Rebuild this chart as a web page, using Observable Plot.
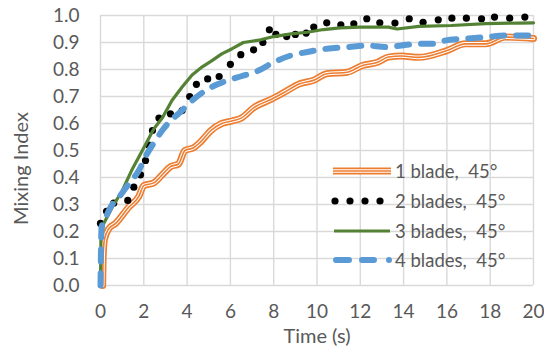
<!DOCTYPE html>
<html>
<head>
<meta charset="utf-8">
<script src="https://cdn.jsdelivr.net/npm/d3@7"></script>
<script src="https://cdn.jsdelivr.net/npm/@observablehq/plot@0.6"></script>
<style>
  html, body { margin: 0; padding: 0; background: #fff; }
  #chart { width: 544px; height: 358px; }
</style>
</head>
<body>
<div id="chart"></div>
<script>
// ---- data ----
const seriesNames = ["1 blade,  45°", "2 blades,  45°", "3 blades,  45°", "4 blades,  45°"];

const t1 = [0.1, 0.12, 0.18, 0.38, 0.7, 1.3, 1.77, 2.0, 2.46, 2.85, 3.23, 3.6, 3.9, 4.3, 4.6, 5.1, 5.6, 6.1, 6.5, 7.1, 7.9, 8.5, 9.2, 9.85, 10.45, 11.4, 12.1, 12.8, 13.3, 13.9, 14.7, 16.0, 16.85, 17.8, 18.7, 20];
const v1 = [0, 0.1, 0.17, 0.21, 0.23, 0.29, 0.33, 0.37, 0.38, 0.41, 0.44, 0.45, 0.5, 0.51, 0.53, 0.574, 0.6, 0.61, 0.62, 0.66, 0.69, 0.716, 0.747, 0.76, 0.784, 0.79, 0.815, 0.827, 0.846, 0.85, 0.845, 0.87, 0.895, 0.895, 0.92, 0.915];

const t2 = [0, 0.28, 0.61, 1.26, 1.54, 1.85, 2.08, 2.23, 2.4, 2.7, 3.23, 3.77, 4.12, 4.43, 4.95, 5.48, 6.0, 6.48, 7.07, 7.5, 7.8, 8.1, 8.6, 9.0, 9.5, 9.85, 10.45, 11.1, 11.7, 12.3, 12.9, 13.6, 14.26, 14.9, 15.6, 16.23, 16.9, 17.6, 18.2, 18.9, 19.6];
const v2 = [0.23, 0.275, 0.305, 0.315, 0.364, 0.41, 0.463, 0.52, 0.574, 0.62, 0.636, 0.648, 0.70, 0.745, 0.765, 0.774, 0.819, 0.855, 0.873, 0.90, 0.947, 0.93, 0.922, 0.93, 0.935, 0.957, 0.973, 0.965, 0.969, 0.988, 0.973, 0.972, 0.988, 0.975, 0.984, 0.99, 0.99, 0.988, 0.994, 0.99, 0.994];

const t3 = [0, 0.02, 0.15, 0.54, 1.0, 1.46, 2.0, 2.46, 2.85, 3.3, 3.77, 4.23, 4.7, 5.15, 5.6, 6.08, 6.6, 7.4, 8.0, 8.8, 9.55, 10.3, 11.06, 11.97, 13.3, 13.7, 14.7, 16.2, 17.8, 19.3, 20];
const v3 = [0, 0.17, 0.23, 0.29, 0.35, 0.43, 0.51, 0.58, 0.62, 0.685, 0.735, 0.78, 0.81, 0.833, 0.858, 0.877, 0.9, 0.91, 0.922, 0.932, 0.938, 0.948, 0.954, 0.957, 0.957, 0.95, 0.96, 0.963, 0.97, 0.972, 0.973];

const t4 = [0, 0.05, 0.23, 0.54, 0.85, 1.3, 1.77, 2.15, 2.54, 2.85, 3.23, 3.6, 4.23, 4.85, 5.46, 6.08, 6.5, 7.3, 8.0, 8.8, 9.5, 10.45, 11.4, 12.3, 13.2, 13.9, 14.7, 15.5, 15.9, 16.85, 17.8, 18.85, 20];
const v4 = [0, 0.216, 0.25, 0.30, 0.327, 0.376, 0.426, 0.488, 0.537, 0.574, 0.61, 0.636, 0.685, 0.722, 0.747, 0.765, 0.775, 0.796, 0.827, 0.852, 0.864, 0.877, 0.883, 0.889, 0.883, 0.889, 0.895, 0.895, 0.907, 0.914, 0.92, 0.926, 0.926];

const xTicks = [0, 2, 4, 6, 8, 10, 12, 14, 16, 18, 20];
const yTicks = [0, 0.1, 0.2, 0.3, 0.4, 0.5, 0.6, 0.7, 0.8, 0.9, 1.0];
const xTitle = "Time (s)";
const yTitle = "Mixing Index";

// ---- build tables ----
const zip = (ts, vs) => ts.map((t, i) => ({t, v: vs[i]}));
const s1 = zip(t1, v1), s2 = zip(t2, v2), s3 = zip(t3, v3), s4 = zip(t4, v4);

const ORANGE = "#ED7D31", GREEN = "#548235", BLUE = "#5B9BD5", TEXT = "#595959", GRID = "#D9D9D9";
const FONT = "Lato, 'Open Sans', sans-serif";
const FS_TICK = 19, FS_TITLE = 20, FS_LEG = 18.5;

const chart = Plot.plot({
  width: 544,
  height: 358,
  marginLeft: 100,
  marginRight: 11,
  marginTop: 15,
  marginBottom: 73,
  style: {fontFamily: FONT, fontSize: FS_TICK + "px", color: TEXT, background: "#fff", overflow: "visible"},
  x: {domain: [0, 20]},
  y: {domain: [0, 1]},
  marks: [
    Plot.gridX(xTicks, {stroke: GRID, strokeOpacity: 1, strokeWidth: 1.4}),
    Plot.gridY(yTicks, {stroke: GRID, strokeOpacity: 1, strokeWidth: 1.4}),
    // 1 blade: triple compound line
    Plot.line(s1, {x: "t", y: "v", stroke: ORANGE, strokeWidth: 7, curve: "monotone-x"}),
    Plot.line(s1, {x: "t", y: "v", stroke: "#fff", strokeWidth: 3.6, curve: "monotone-x"}),
    Plot.line(s1, {x: "t", y: "v", stroke: ORANGE, strokeWidth: 1.6, curve: "monotone-x"}),
    // 2 blades: round dots
    Plot.dot(s2, {x: "t", y: "v", r: 3.6, fill: "#000", stroke: "none"}),
    // 3 blades: solid green
    Plot.line(s3, {x: "t", y: "v", stroke: GREEN, strokeWidth: 3.2}),
    // 4 blades: dashed blue
    Plot.line(s4, {x: "t", y: "v", stroke: BLUE, strokeWidth: 6, strokeDasharray: "12,12", strokeLinecap: "round", curve: "monotone-x"}),
    Plot.axisX(xTicks, {tickSize: 0, tickPadding: 19, tickFormat: d => String(d), label: null, fill: TEXT, fontSize: FS_TICK}),
    Plot.axisY(yTicks, {tickSize: 0, tickPadding: 21, tickFormat: d3.format(".1f"), label: null, fill: TEXT, fontSize: FS_TICK}),
    Plot.text([xTitle], {frameAnchor: "bottom", dy: 57, fill: TEXT, fontSize: FS_TITLE, textAnchor: "middle"}),
    Plot.text([yTitle], {frameAnchor: "left", dx: -79, dy: 18, rotate: -90, fill: TEXT, fontSize: FS_TITLE, textAnchor: "middle"})
  ]
});
document.getElementById("chart").appendChild(chart);

// ---- legend (inside plot area, no background) ----
const svg = d3.select(chart);
const leg = svg.append("g").attr("font-family", FONT).attr("font-size", FS_LEG).attr("fill", TEXT).attr("text-anchor", "start");
const rowY = [171, 201, 231, 260];
const x0 = 333, x1 = 391, tx = 395;
seriesNames.forEach((name, i) => {
  const g = leg.append("g").attr("transform", `translate(0,${rowY[i]})`);
  if (i === 0) {
    g.append("line").attr("x1", x0).attr("x2", x1).attr("stroke", ORANGE).attr("stroke-width", 7);
    g.append("line").attr("x1", x0).attr("x2", x1).attr("stroke", "#fff").attr("stroke-width", 3.6);
    g.append("line").attr("x1", x0).attr("x2", x1).attr("stroke", ORANGE).attr("stroke-width", 1.6);
  } else if (i === 1) {
    [335, 350, 365, 380].forEach(cx => g.append("circle").attr("cx", cx).attr("cy", 0).attr("r", 3.6).attr("fill", "#000"));
  } else if (i === 2) {
    g.append("line").attr("x1", x0 + 1).attr("x2", x1 - 1).attr("stroke", GREEN).attr("stroke-width", 3.2);
  } else {
    g.append("line").attr("x1", 336).attr("x2", 392).attr("stroke", BLUE).attr("stroke-width", 6)
      .attr("stroke-linecap", "round").attr("stroke-dasharray", "13,13,12,15,0,20");
  }
  g.append("text").attr("x", tx).attr("y", 0).attr("dy", "0.36em").attr("text-anchor", "start").style("white-space", "pre").text(name);
});
</script>
</body>
</html>
